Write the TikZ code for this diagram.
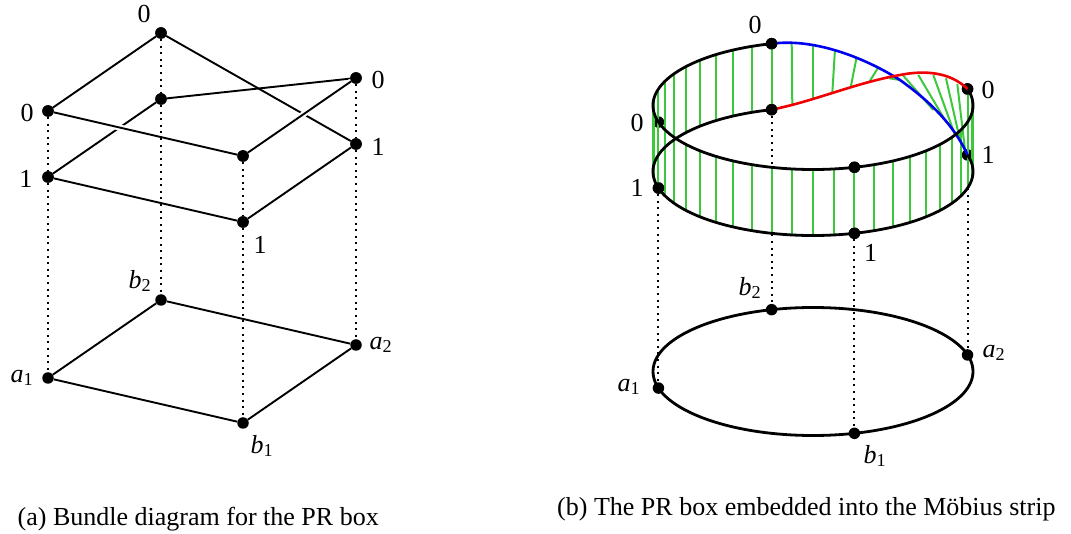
\documentclass[tikz,border=0pt]{standalone}
\usepackage{fontspec}
\setmainfont{Liberation Serif}
\usetikzlibrary{positioning}
\definecolor{StripGreen}{HTML}{3CC83C}
\definecolor{EdgeBlue}{HTML}{0000F0}
\definecolor{EdgeRed}{HTML}{F00000}
\newcommand{\subvar}[2]{\textit{#1}\textsubscript{#2}}

\begin{document}
\begin{tikzpicture}[x=1pt,y=1pt,
  dot/.style={circle,fill=black,inner sep=0pt,minimum size=11.5pt},
  lab/.style={inner sep=0pt,font=\fontsize{26}{28}\selectfont},
  legend/.style={inner sep=0pt,anchor=base west,font=\fontsize{26}{28}\selectfont},
  link/.style={line width=1.9pt},
  over/.style={link,preaction={draw=white,line width=6pt}},
  fibre/.style={line width=2pt,dash pattern=on 2pt off 4.6pt},
  ring/.style={line width=2.8pt},
  rung/.style={line width=2pt,StripGreen}]
  \useasboundingbox (0,0) rectangle (1071,533);

  % (a) top sheet, middle sheet, base
  \node[dot] (ta) at (161,500) {};
  \node[dot] (la) at (48,422) {};
  \node[dot] (ra) at (356,455) {};
  \node[dot] (fa) at (243,377) {};
  \node[dot] (tb) at (161,434) {};
  \node[dot] (lb) at (48,356) {};
  \node[dot] (rb) at (356,389) {};
  \node[dot] (fb) at (243,311) {};
  \node[dot] (b2) at (161,233) {};
  \node[dot] (a1) at (48,155) {};
  \node[dot] (a2) at (356,188) {};
  \node[dot] (b1) at (243,110) {};

  \draw[link] (ta) -- (la);
  \draw[link] (ta) -- (rb);
  \draw[link] (tb) -- (lb);
  \draw[link] (tb) -- (ra);
  \draw[over] (la) -- (fa);
  \draw[over] (fa) -- (ra);
  \draw[over] (lb) -- (fb);
  \draw[over] (fb) -- (rb);
  \draw[link] (b2) -- (a1) -- (b1) -- (a2) -- (b2);

  \draw[fibre] (ta) -- (tb);
  \draw[fibre] (tb) -- (b2);
  \draw[fibre] (la) -- (lb);
  \draw[fibre] (lb) -- (a1);
  \draw[fibre] (ra) -- (rb);
  \draw[fibre] (rb) -- (a2);
  \draw[fibre] (fa) -- (fb);
  \draw[fibre] (fb) -- (b1);

  \node[dot] at (ta) {};
  \node[dot] at (la) {};
  \node[dot] at (ra) {};
  \node[dot] at (fa) {};
  \node[dot] at (tb) {};
  \node[dot] at (lb) {};
  \node[dot] at (rb) {};
  \node[dot] at (fb) {};

  \node[lab] (lta) at (144,519) {0};
  \node[lab] (lla) at (27,420) {0};
  \node[lab] (lra) at (378,453) {0};
  \node[lab] (llb) at (26,354) {1};
  \node[lab] (lrb) at (378,386) {1};
  \node[lab] (lfb) at (260,288) {1};
  \node[lab] (lb2) at (140,252) {\subvar{b}{2}};
  \node[lab] (la1) at (22,155) {\subvar{a}{1}};
  \node[lab] (la2) at (381,188) {\subvar{a}{2}};
  \node[lab] (lb1) at (262,87) {\subvar{b}{1}};
  \node[legend] (capa) at (17.5,8) {(a) Bundle diagram for the PR box};

  % (b) the strip
  \coordinate (ct) at (813,427.5);
  \coordinate (cl) at (813,361.5);
  \coordinate (cb) at (813,161.5);
  \path (ct) ++(105:160 and 64) node[dot] (mta) {};
  \path (ct) ++(195:160 and 64) node[dot] (mla) {};
  \path (ct) ++(285:160 and 64) node[dot] (mfa) {};
  \path (ct) ++(15:160 and 64) node[dot] (mra) {};
  \path (cl) ++(105:160 and 64) node[dot] (mtb) {};
  \path (cl) ++(195:160 and 64) node[dot] (mlb) {};
  \path (cl) ++(285:160 and 64) node[dot] (mfb) {};
  \path (cl) ++(15:160 and 64) node[dot] (mrb) {};
  \path (cl) ++(345:160 and 64) coordinate (mrf);
  \path (cb) ++(105:160 and 64) node[dot] (mb2) {};
  \path (cb) ++(195:160 and 64) node[dot] (ma1) {};
  \path (cb) ++(285:160 and 64) node[dot] (mb1) {};
  \path (cb) ++(15:160 and 64) node[dot] (ma2) {};

  \draw[fibre] (mtb) -- (mb2);
  \draw[fibre] (mlb) -- (ma1);
  \draw[fibre] (mfb) -- (mb1);
  \draw[fibre] (mrf) -- (ma2);

  % straight part of the strip
  \foreach \t in {105,112.5,...,375}
    \draw[rung] (ct) ++(\t:160 and 64) -- ++(0,-66);

  % twisted part of the strip
  \foreach \xa/\ya/\xb/\yb in {
    791.7/490.7/792.3/428, 812.7/489/812.7/433.7, 835/483.7/832.3/439.7,
    856.7/476.3/850.7/445.7, 878.3/465.7/869/450.7, 900/453/889.3/454.7,
    903.3/457.3/933.3/423, 918.3/458/945/413, 933.3/458/955/398,
    946/454.7/960/393, 957.3/449/965/383}
    \draw[rung] (\xa,\ya) -- (\xb,\yb);

  \draw[line width=2.6pt,EdgeBlue] (mta.center) .. controls (815,495) and (865,475) .. (900,453)
    .. controls (925,435) and (952,412) .. (mrb.center);
  \draw[ring] (mtb.center) arc[start angle=105,end angle=375,x radius=160,y radius=64];
  \draw[ring] (mta.center) arc[start angle=105,end angle=375,x radius=160,y radius=64];
  \draw[ring] (cb) ellipse[x radius=160,y radius=64];
  \node[dot] at (mta) {};
  \node[dot] at (mfa) {};
  \node[dot] at (mfb) {};
  \node[dot] at (mlb) {};
  \node[dot] at (mra) {};
  \draw[line width=2.6pt,EdgeRed] (mtb.center) .. controls (815,432) and (855,450) .. (900,458)
    .. controls (925,463) and (950,461) .. (mra.center);
  \node[dot] at (mtb) {};

  \node[lab] (mlta) at (755,508) {0};
  \node[lab] (mlra) at (988,443) {0};
  \node[lab] (mlla) at (637,410) {0};
  \node[lab] (mllb) at (637,345) {1};
  \node[lab] (mlrb) at (988,378) {1};
  \node[lab] (mlfb) at (870.5,280) {1};
  \node[lab] (mlb2) at (750,245) {\subvar{b}{2}};
  \node[lab] (mla1) at (629,146) {\subvar{a}{1}};
  \node[lab] (mla2) at (994,180) {\subvar{a}{2}};
  \node[lab] (mlb1) at (875,77) {\subvar{b}{1}};
  \node[legend] (capb) at (557,18) {(b) The PR box embedded into the Möbius strip};
\end{tikzpicture}
\end{document}
